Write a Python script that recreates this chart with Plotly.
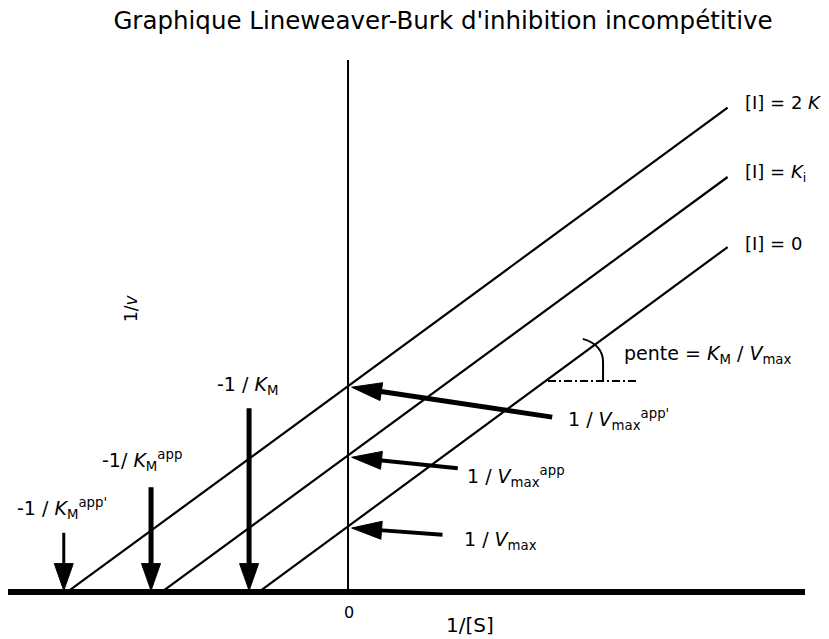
import math
import plotly.graph_objects as go

# ---------------- data ----------------
line_names = ["[I] = 0", "[I] = <i>K</i><sub>i</sub>", "[I] = 2 <i>K</i><sub>i</sub>"]
line_x_start = [-0.99, -2.07, -3.12]     # x-intercepts
line_y_start = [0.0, 0.0, 0.0]
line_x_end = [4.22, 4.22, 4.22]
line_y_end = [5.07, 6.10, 7.12]

km_labels = ["-1 / <i>K</i><sub>M</sub>",
             "-1/ <i>K</i><sub>M</sub><sup>app</sup>",
             "-1 / <i>K</i><sub>M</sub><sup>app'</sup>"]
km_arrow_x = [-1.10, -2.19, -3.16]
km_arrow_top = [2.70, 1.54, 0.87]
km_label_x = [-1.48, -2.76, -3.70]
km_label_y = [3.04, 1.94, 1.22]

vmax_labels = ["1 / <i>V</i><sub>max</sub>",
               "1 / <i>V</i><sub>max</sub><sup>app</sup>",
               "1 / <i>V</i><sub>max</sub><sup>app'</sup>"]
vmax_tip_x = [0.04, 0.04, 0.04]
vmax_tip_y = [0.94, 1.98, 3.01]
vmax_tail_x = [1.05, 1.22, 2.27]
vmax_tail_y = [0.84, 1.82, 2.57]
vmax_label_x = [1.27, 1.30, 2.42]
vmax_label_y = [0.75, 1.70, 2.53]

slope_label = "pente = <i>K</i><sub>M</sub> / <i>V</i><sub>max</sub>"
title_text = "Graphique Lineweaver-Burk d'inhibition incompétitive"

# ---------------- layout constants ----------------
W, H = 829, 639
OFF = 8                      # default page body margin
PLOT_L, PLOT_R, PLOT_T, PLOT_B = 8, 805, 60, 600   # wanted plot box on the page
ML = PLOT_L - OFF
MT = PLOT_T - OFF
MR = W - (PLOT_R - OFF)
MB = H - (PLOT_B - OFF)
X_RANGE = [-3.78, 5.08]
Y_RANGE = [-0.118, 7.82]
PW = W - ML - MR
PH = H - MT - MB
KX = PW / (X_RANGE[1] - X_RANGE[0])   # px per x unit
KY = PH / (Y_RANGE[1] - Y_RANGE[0])   # px per y unit
FONT = "DejaVu Sans, Liberation Sans, Arial"
LBL = 19


def px_paper(px):
    return (px - PLOT_L) / PW


def py_paper(py):
    return (PLOT_B - py) / PH


shapes = []


def arrow(tip, tail, shaft_w, head_len=27, head_w=18):
    tx, ty = tip[0] * KX, tip[1] * KY
    sx, sy = tail[0] * KX, tail[1] * KY
    dx, dy = sx - tx, sy - ty
    d = math.hypot(dx, dy)
    ux, uy = dx / d, dy / d
    nx, ny = -uy, ux
    bx, by = tx + ux * head_len, ty + uy * head_len
    p1 = (bx + nx * head_w / 2, by + ny * head_w / 2)
    p2 = (bx - nx * head_w / 2, by - ny * head_w / 2)

    def c(p):
        return f"{p[0] / KX:.5f},{p[1] / KY:.5f}"

    shapes.append(dict(type="path", xref="x", yref="y",
                       path=f"M{c((tx, ty))} L{c(p1)} L{c(p2)} Z",
                       fillcolor="black", line=dict(color="black", width=1)))
    shapes.append(dict(type="line", xref="x", yref="y",
                       x0=(bx - ux * 2) / KX, y0=(by - uy * 2) / KY,
                       x1=tail[0], y1=tail[1],
                       line=dict(color="black", width=shaft_w)))


fig = go.Figure()

for xs, ys, xe, ye, name in zip(line_x_start, line_y_start, line_x_end, line_y_end, line_names):
    fig.add_trace(go.Scatter(x=[xs, xe], y=[ys, ye], mode="lines",
                             line=dict(color="black", width=2.2), name=name,
                             showlegend=False, hoverinfo="skip"))

annotations = []
for xe, ye, name in zip(line_x_end, line_y_end, line_names):
    annotations.append(dict(x=xe, y=ye, xref="x", yref="y", text=name, showarrow=False,
                            xanchor="left", yanchor="middle", xshift=15, yshift=4,
                            font=dict(size=18, color="black", family=FONT)))

# axes drawn as shapes
shapes.append(dict(type="line", xref="x", yref="y", x0=X_RANGE[0], x1=X_RANGE[1], y0=0, y1=0,
                   line=dict(color="black", width=6)))
shapes.append(dict(type="line", xref="x", yref="y", x0=0, x1=0, y0=0, y1=Y_RANGE[1],
                   line=dict(color="black", width=2)))

# KM arrows (vertical, pointing at x-intercepts)
for x, top, w in zip(km_arrow_x, km_arrow_top, [5, 5, 3]):
    arrow((x, 0.02), (x, top), w, head_len=27, head_w=19)

# Vmax arrows (pointing at y-intercepts)
for tx, ty, sx, sy, w in zip(vmax_tip_x, vmax_tip_y, vmax_tail_x, vmax_tail_y, [4, 4, 5]):
    arrow((tx, ty), (sx, sy), w, head_len=30, head_w=18)

for x, y, t in zip(km_label_x, km_label_y, km_labels):
    annotations.append(dict(x=x, y=y, xref="x", yref="y", text=t, showarrow=False,
                            xanchor="left", yanchor="middle",
                            font=dict(size=LBL, color="black", family=FONT)))
for x, y, t in zip(vmax_label_x, vmax_label_y, vmax_labels):
    annotations.append(dict(x=x, y=y, xref="x", yref="y", text=t, showarrow=False,
                            xanchor="left", yanchor="middle",
                            font=dict(size=LBL, color="black", family=FONT)))

# slope indicator
shapes.append(dict(type="line", xref="x", yref="y", x0=2.223, x1=3.213, y0=3.102, y1=3.102,
                   line=dict(color="black", width=2, dash="8px,3px,2px,3px")))
shapes.append(dict(type="path", xref="x", yref="y",
                   path="M2.835,3.102 L2.835,3.381 Q2.835,3.631 2.61,3.72",
                   line=dict(color="black", width=2)))
annotations.append(dict(x=3.046, y=3.484, xref="x", yref="y", text=slope_label, showarrow=False,
                        xanchor="left", yanchor="middle",
                        font=dict(size=LBL, color="black", family=FONT)))

# axis texts
annotations.append(dict(x=px_paper(349), y=py_paper(612), xref="paper", yref="paper",
                        text="0", showarrow=False, xanchor="center", yanchor="middle",
                        font=dict(size=16, color="black", family=FONT)))
annotations.append(dict(x=px_paper(470), y=py_paper(625), xref="paper", yref="paper",
                        text="1/[S]", showarrow=False, xanchor="center", yanchor="middle",
                        font=dict(size=20, color="black", family=FONT)))
annotations.append(dict(x=px_paper(131), y=py_paper(308), xref="paper", yref="paper",
                        text="1/<i>v</i>", showarrow=False, xanchor="center", yanchor="middle",
                        textangle=-90,
                        font=dict(size=17, color="black", family=FONT)))

fig.update_layout(
    width=W, height=H,
    margin=dict(l=ML, r=MR, t=MT, b=MB),
    paper_bgcolor="white", plot_bgcolor="white",
    title=dict(text=title_text, x=(443 - OFF) / W, xanchor="center",
               y=1 - (20 - OFF) / H, yanchor="middle",
               font=dict(size=24.5, color="black", family=FONT)),
    xaxis=dict(range=X_RANGE, visible=False, fixedrange=True),
    yaxis=dict(range=Y_RANGE, visible=False, fixedrange=True),
    shapes=shapes,
    annotations=annotations,
    showlegend=False,
)

fig.write_html("out.html")
